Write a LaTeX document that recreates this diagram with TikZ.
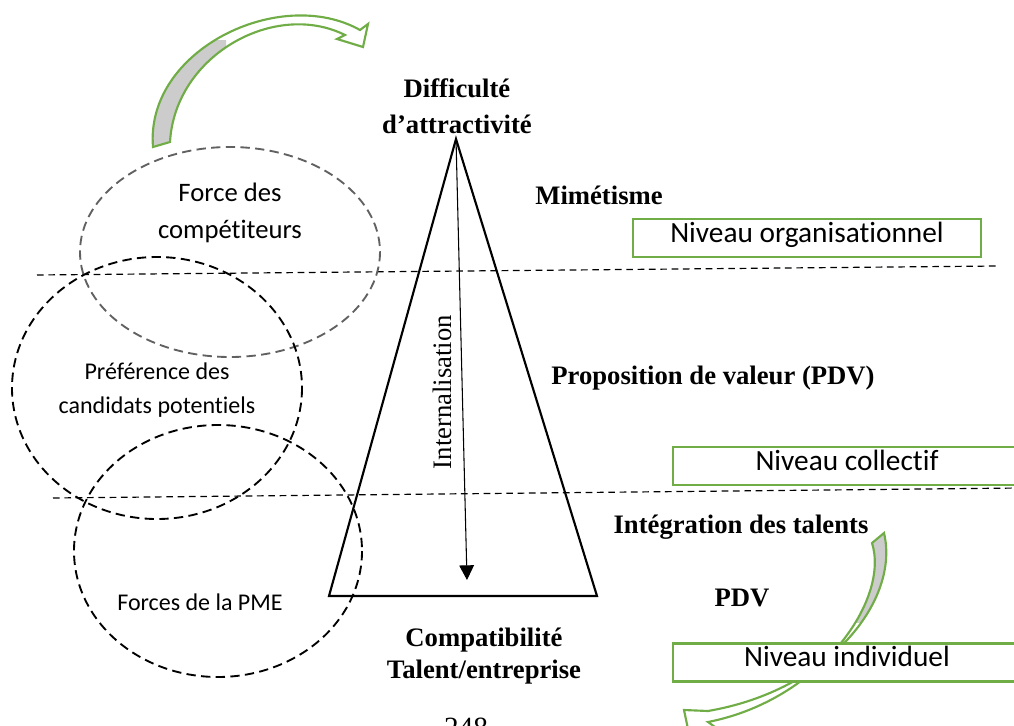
\documentclass[tikz,border=0pt]{standalone}
\usepackage{fontspec}
\setmainfont{Liberation Serif}
\newfontfamily\calibri[Ligatures=NoCommon]{Carlito}
\usepackage{xcolor}
\usepackage{tikz}
\usetikzlibrary{arrows.meta,positioning,calc}
\definecolor{offgreen}{HTML}{70AD47}

\begin{document}
\begin{tikzpicture}[
  x=0.75pt, y=-0.75pt,
  >=Latex,
  title/.style={font=\fontsize{20}{24}\selectfont\bfseries, align=center, inner sep=0pt},
  factor/.style={font=\calibri\fontsize{18}{25}\selectfont, align=center, inner sep=0pt},
  level/.style={draw=offgreen, line width=2pt, fill=white, minimum width=261pt, minimum height=28.5pt, inner sep=0pt, text height=0.8em, text depth=0.15em, font=\calibri\fontsize{22}{26}\selectfont},
  zone/.style={dash pattern=on 7pt off 4pt, line width=1.4pt},
  split/.style={dash pattern=on 5pt off 3.5pt, line width=0.9pt},
  bendarrow/.style={draw=offgreen, line width=1.6pt, line join=miter}
]

\useasboundingbox (0,0) rectangle (1014,725);
\clip (0,0) rectangle (1014,725);

% level separators
\coordinate (sepA1) at (37,275);  \coordinate (sepA2) at (998,266);
\coordinate (sepB1) at (53,498);  \coordinate (sepB2) at (1020,488);
\draw[split] (sepA1) -- (sepA2);
\draw[split] (sepB1) -- (sepB2);

% the three forces
\draw[zone, black!62] (230,252) ellipse [x radius=150, y radius=105];
\draw[zone] (157,388) ellipse [x radius=145, y radius=131];
\draw[zone] (218,551) ellipse [x radius=144, y radius=126];

\node[factor, font=\calibri\fontsize{20}{28}\selectfont] (rivals) at (230,213) {Force des\\compétiteurs};
\node[factor] (prefs) at (157,390) {Préférence des\\candidats potentiels};
\node[factor] (sme) at (200,602) {Forces de la PME};

% pyramid
\coordinate (apex) at (456,139);
\coordinate (baseL) at (329,596);
\coordinate (baseR) at (597,596);
\coordinate (inner) at (467,580);
\draw[line width=1.6pt, line join=miter] (apex) -- (baseL) -- (baseR) -- cycle;
\draw[-{Triangle[length=11pt,width=11pt]}, line width=0.8pt] (apex) -- (inner);
\node[rotate=90, font=\fontsize{20}{24}\selectfont, inner sep=0pt] (intern) at (442,392) {Internalisation};

\node[title] (difficulty) at (457,106) {Difficulté\\[3pt]d’attractivité};
\node[title] (fit) at (484,656) {Compatibilité\\Talent/entreprise};

\node[title] (mimic) at (599,195) {Mimétisme};
\node[title] (value) at (713,378) {Proposition de valeur (PDV)};
\node[title] (integr) at (741,527) {Intégration des talents};
\node[title] (pdv) at (742,598) {PDV};

% curved arrows
\begin{scope}
  \clip (140,40) rectangle (226,150);
  \fill[gray!40] (153,147) .. controls (145,50) and (280,-15) .. (360,30) -- (345,35) .. controls (275,0) and (175,55) .. (170,142) -- cycle;
\end{scope}
\draw[bendarrow] (153,147) .. controls (145,50) and (280,-15) .. (360,30) -- (368,24) -- (363,47) -- (337,39) -- (345,35) .. controls (275,0) and (175,55) .. (170,142) -- cycle;

\begin{scope}
  \clip (830,525) rectangle (900,622);
  \fill[gray!40] (884,533) .. controls (900,600) and (830,690) .. (708,711) -- (708,722) .. controls (820,700) and (890,600) .. (872,543) -- cycle;
\end{scope}
\draw[bendarrow] (884,533) .. controls (900,600) and (830,690) .. (708,711) -- (684,710) -- (692,748) -- (722,732) -- (708,722) .. controls (820,700) and (890,600) .. (872,543) -- cycle;

% levels
\node[level] (orga) at (807,238) {Niveau organisationnel};
\node[level] (coll) at (847,466) {Niveau collectif};
\node[level] (indiv) at (847,662.5) {Niveau individuel};

\node[font=\fontsize{22}{24}\selectfont, anchor=base, inner sep=0pt] (page) at (466,737) {248};

\end{tikzpicture}
\end{document}
